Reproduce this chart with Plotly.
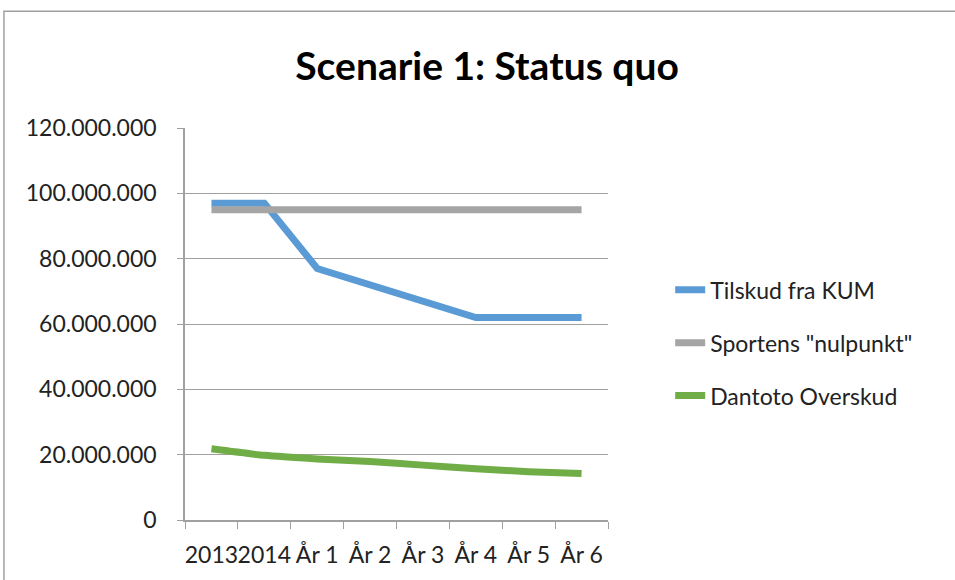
import plotly.graph_objects as go

categories = ["2013", "2014", "År 1", "År 2", "År 3", "År 4", "År 5", "År 6"]
tilskud_kum = [97000000, 97000000, 77000000, 72000000, 67000000, 62000000, 62000000, 62000000]
sportens_nulpunkt = [95000000, 95000000, 95000000, 95000000, 95000000, 95000000, 95000000, 95000000]
dantoto_overskud = [21800000, 19800000, 18700000, 17900000, 16800000, 15700000, 14800000, 14200000]
y_ticks = [0, 20000000, 40000000, 60000000, 80000000, 100000000, 120000000]

FONT = "Lato"

fig = go.Figure()
fig.add_trace(go.Scatter(x=categories, y=tilskud_kum, mode="lines", name="Tilskud fra KUM",
                         line=dict(color="#5B9BD5", width=7), legendgroup="a"))
fig.add_trace(go.Scatter(x=categories, y=sportens_nulpunkt, mode="lines", name='Sportens "nulpunkt"',
                         line=dict(color="#A5A5A5", width=7), legendgroup="b"))
fig.add_trace(go.Scatter(x=categories, y=dantoto_overskud, mode="lines", name="Dantoto Overskud",
                         line=dict(color="#70AD47", width=7, shape="spline", smoothing=0.6), legendgroup="c"))

fig.update_layout(
    width=955, height=580,
    margin=dict(l=185, r=347, t=128, b=60),
    paper_bgcolor="white", plot_bgcolor="white",
    separators=",.",
    font=dict(family=FONT, size=23, color="#222222"),
    title=dict(text="<b>Scenarie 1: Status quo</b>", x=0.51, xref="container", xanchor="center",
               y=0.886, yanchor="middle", font=dict(family=FONT, size=39, color="black")),
    showlegend=True,
    legend=dict(x=1.147, xanchor="left", y=0.452, yanchor="middle", tracegroupgap=20,
                traceorder="grouped", font=dict(family=FONT, size=23, color="#222222"),
                bgcolor="rgba(0,0,0,0)"),
    shapes=[dict(type="rect", xref="paper", yref="paper", x0=-0.428, x1=2.2, y0=-0.3, y1=1.298,
                 line=dict(color="#A0A0A0", width=1.5), fillcolor="rgba(0,0,0,0)", layer="below")],
)
fig.update_xaxes(type="category", showgrid=False, showline=True, linecolor="#A0A0A0", linewidth=1.5,
                 ticks="outside", tickson="boundaries", ticklen=7, tickcolor="#A0A0A0",
                 tickangle=0, ticklabelstandoff=14, range=[-0.5, 7.5], automargin=False)
fig.update_yaxes(range=[0, 120000000], tickvals=y_ticks, tickformat=",d", showgrid=True,
                 gridcolor="#A0A0A0", gridwidth=1, showline=True, linecolor="#A0A0A0", linewidth=1.5,
                 ticks="outside", ticklen=6, tickcolor="#A0A0A0", ticklabelstandoff=16, zeroline=False,
                 automargin=False)

fig.write_html("out.html", config={"displayModeBar": False},
               post_script="document.body.style.margin='0';document.body.style.overflow='hidden';")
